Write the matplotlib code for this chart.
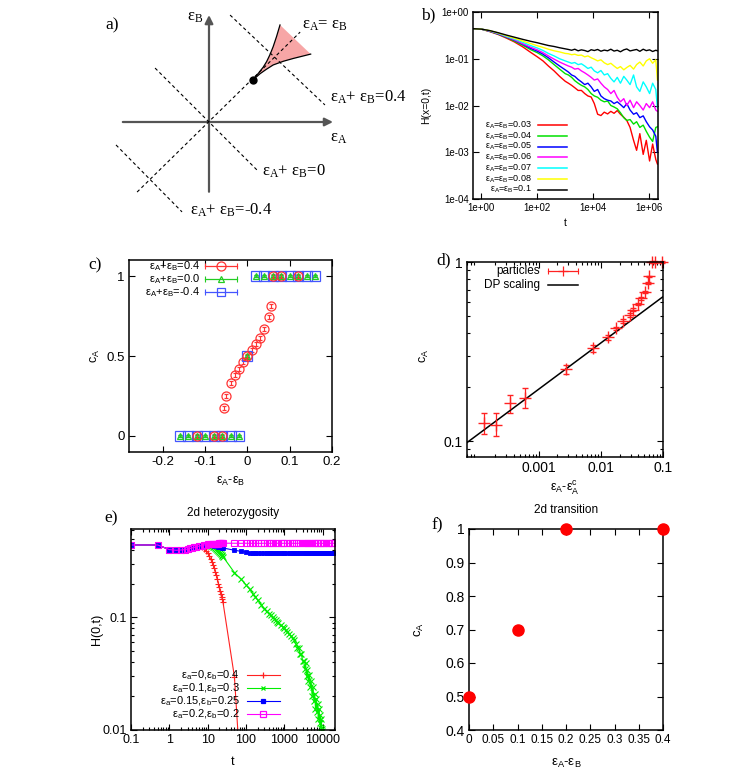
import numpy as np
import matplotlib
matplotlib.use('Agg')
import matplotlib.pyplot as plt
from matplotlib.ticker import FixedLocator, FixedFormatter, NullLocator, NullFormatter, LogLocator

plt.rcParams['font.family'] = ['Liberation Sans', 'DejaVu Sans']
plt.rcParams['mathtext.default'] = 'regular'

# ---------------- panel a: schematic phase diagram (eps units) ----------------
a_axis_h = ([-0.278, 0.40], [0.0, 0.0])
a_axis_v = ([0.0, 0.0], [-0.225, 0.345])
a_diag = ([-0.232, 0.294], [-0.226, 0.290])
a_sum_x = [[0.068, 0.374], [-0.174, 0.155], [-0.300, -0.087]]
a_sum_y = [[0.345, 0.055], [0.174, -0.155], [-0.074, -0.290]]
a_dot = (0.141, 0.135)
horn_up_x = [0.141, 0.160, 0.175, 0.186, 0.197, 0.207, 0.218, 0.229]
horn_up_y = [0.135, 0.158, 0.177, 0.195, 0.218, 0.243, 0.276, 0.313]
horn_lo_x = [0.141, 0.165, 0.185, 0.207, 0.240, 0.272, 0.300, 0.328]
horn_lo_y = [0.135, 0.156, 0.170, 0.184, 0.196, 0.205, 0.212, 0.219]

# ---------------- panel b ----------------
b_t = [0.5, 1, 2, 4, 8, 15, 30, 60, 100, 160, 250, 400, 630, 1000, 1300, 1700, 2200,
       2900, 3800, 5000, 6500, 8500, 11000, 14500, 19000, 25000, 33000, 43000, 56000,
       73000, 95000, 125000, 160000, 210000, 280000, 360000, 470000, 620000, 800000,
       1050000, 1350000, 1750000, 2000000]
b_red = [0.44, 0.43, 0.38, 0.33, 0.275, 0.23, 0.18, 0.135, 0.11, 0.09, 0.07, 0.055, 0.042, 0.033,
         0.03, 0.027, 0.024, 0.021, 0.021, 0.018, 0.016, 0.0152, 0.011, 0.0065,
         0.0061, 0.0072, 0.0066, 0.0075, 0.0068, 0.0078, 0.0065, 0.0056, 0.0048, 0.0034,
         0.0018, 0.0011, 0.0025, 0.0009, 0.0018, 0.00065, 0.0015, 0.0007, 0.00056]
b_green = [0.44, 0.43, 0.385, 0.335, 0.285, 0.24, 0.195, 0.155, 0.135, 0.115, 0.095, 0.075, 0.06, 0.048,
           0.045, 0.04, 0.034, 0.03, 0.027, 0.025, 0.022, 0.018, 0.016, 0.015,
           0.013, 0.012, 0.0125, 0.01, 0.0093, 0.0085, 0.007, 0.0055, 0.0048, 0.005,
           0.004, 0.0045, 0.0034, 0.0038, 0.0028, 0.0021, 0.0017, 0.0034, 0.0035]
b_blue = [0.44, 0.43, 0.39, 0.34, 0.29, 0.25, 0.205, 0.165, 0.145, 0.125, 0.105, 0.085, 0.07, 0.058,
          0.052, 0.045, 0.042, 0.036, 0.032, 0.028, 0.03, 0.025, 0.02, 0.022,
          0.016, 0.014, 0.013, 0.0125, 0.011, 0.012, 0.0105, 0.009, 0.011, 0.008,
          0.0065, 0.007, 0.0055, 0.006, 0.0045, 0.0035, 0.003, 0.0022, 0.001]
b_magenta = [0.44, 0.43, 0.39, 0.345, 0.295, 0.255, 0.21, 0.175, 0.155, 0.135, 0.115, 0.098, 0.085, 0.075,
             0.07, 0.066, 0.06, 0.062, 0.055, 0.05, 0.045, 0.04, 0.035, 0.037,
             0.03, 0.025, 0.022, 0.018, 0.021, 0.015, 0.012, 0.014, 0.01, 0.013,
             0.009, 0.012, 0.01, 0.008, 0.011, 0.009, 0.012, 0.008, 0.0075]
b_cyan = [0.44, 0.43, 0.395, 0.35, 0.30, 0.265, 0.225, 0.19, 0.17, 0.15, 0.13, 0.115, 0.10, 0.09,
          0.085, 0.08, 0.083, 0.075, 0.078, 0.07, 0.062, 0.066, 0.055, 0.05,
          0.056, 0.045, 0.048, 0.038, 0.032, 0.04, 0.03, 0.042, 0.035, 0.028,
          0.045, 0.025, 0.02, 0.032, 0.025, 0.018, 0.03, 0.022, 0.009]
b_yellow = [0.44, 0.43, 0.40, 0.355, 0.31, 0.275, 0.24, 0.21, 0.19, 0.175, 0.16, 0.148, 0.14, 0.13,
            0.128, 0.122, 0.125, 0.118, 0.12, 0.11, 0.115, 0.105, 0.098, 0.09,
            0.095, 0.082, 0.075, 0.08, 0.07, 0.062, 0.068, 0.058, 0.065, 0.072,
            0.06, 0.075, 0.085, 0.07, 0.09, 0.1, 0.08, 0.095, 0.035]
b_black = [0.44, 0.43, 0.40, 0.36, 0.32, 0.29, 0.26, 0.235, 0.22, 0.205, 0.192, 0.183, 0.172, 0.163,
           0.158, 0.152, 0.16, 0.148, 0.155, 0.15, 0.142, 0.156, 0.15, 0.158,
           0.145, 0.153, 0.148, 0.16, 0.146, 0.152, 0.141, 0.155, 0.162, 0.147,
           0.153, 0.158, 0.144, 0.16, 0.149, 0.155, 0.143, 0.152, 0.148]
b_labels = ['ε$_A$=ε$_B$=0.03', 'ε$_A$=ε$_B$=0.04', 'ε$_A$=ε$_B$=0.05', 'ε$_A$=ε$_B$=0.06',
            'ε$_A$=ε$_B$=0.07', 'ε$_A$=ε$_B$=0.08', 'ε$_A$=ε$_B$=0.1']
b_colors = ['#ff0000', '#00e000', '#0000ff', '#ff00ff', '#00ffff', '#ffff00', '#000000']
b_xticks = [1, 1e2, 1e4, 1e6]
b_xticklabels = ['1e+00', '1e+02', '1e+04', '1e+06']
b_yticks = [1e-4, 1e-3, 1e-2, 1e-1, 1]
b_yticklabels = ['1e-04', '1e-03', '1e-02', '1e-01', '1e+00']

# ---------------- panel c ----------------
c_red_x = [-0.12, -0.08, -0.06, -0.055, -0.05, -0.04, -0.03, -0.02, -0.01, 0.0, 0.01, 0.02, 0.03,
           0.04, 0.05, 0.055, 0.06, 0.08, 0.12]
c_red_y = [0, 0, 0, 0.175, 0.25, 0.33, 0.38, 0.42, 0.46, 0.5, 0.54, 0.575, 0.615,
           0.67, 0.745, 0.815, 1, 1, 1]
c_sym_x = [-0.16, -0.14, -0.12, -0.10, -0.08, -0.06, -0.04, -0.02, 0.0,
           0.02, 0.04, 0.06, 0.08, 0.10, 0.12, 0.14, 0.16]
c_sym_y = [0, 0, 0, 0, 0, 0, 0, 0, 0.5, 1, 1, 1, 1, 1, 1, 1, 1]
c_err = 0.012
c_labels = ['ε$_A$+ε$_B$=0.4', 'ε$_A$+ε$_B$=0.0', 'ε$_A$+ε$_B$=-0.4']

# ---------------- panel d ----------------
d_x = [1.3e-4, 2.05e-4, 3.47e-4, 5.9e-4, 2.7e-3, 7.6e-3, 0.0129, 0.0177, 0.0229, 0.0291, 0.0335,
       0.0398, 0.045, 0.0507, 0.0568, 0.0606, 0.066, 0.075, 0.096]
d_y = [0.126, 0.123, 0.162, 0.173, 0.251, 0.33, 0.379, 0.426, 0.468, 0.506, 0.54,
       0.582, 0.626, 0.677, 0.76, 0.83, 1.0, 1.0, 1.0]
d_lo = [0.110, 0.106, 0.143, 0.152, 0.238, 0.315, 0.367, 0.416, 0.458, 0.496, 0.53,
        0.572, 0.616, 0.667, 0.75, 0.82, 0.99, 0.99, 0.99]
d_hi = [0.143, 0.143, 0.181, 0.197, 0.266, 0.345, 0.391, 0.436, 0.478, 0.516, 0.55,
        0.592, 0.636, 0.687, 0.77, 0.84, 1.01, 1.01, 1.01]
dp_x = [7e-5, 0.1]
dp_y = [0.098, 0.64]
d_labels = ['particles', 'DP scaling']

# ---------------- panel e ----------------
e_t = [0.1, 0.5, 1, 1.5, 2, 2.5, 3, 3.5, 4, 4.5, 5, 6, 7, 8, 9, 10, 11, 12, 13, 14, 15, 16, 17,
       18, 19, 20, 21, 22, 23, 24, 25]
e_red = [0.44, 0.44, 0.40, 0.395, 0.397, 0.40, 0.405, 0.41, 0.415, 0.42, 0.425, 0.428, 0.42, 0.405,
         0.39, 0.372, 0.35, 0.33, 0.31, 0.29, 0.272, 0.255, 0.238, 0.22, 0.2, 0.185, 0.172,
         0.16, 0.152, 0.145, 0.138]
e_red_tail_t = [50, 75]
e_red_tail = [0.0295, 0.0033]
e_green = [0.44, 0.44, 0.40, 0.395, 0.397, 0.40, 0.405, 0.41, 0.415, 0.42, 0.425, 0.43, 0.435, 0.44,
           0.443, 0.442, 0.44, 0.435, 0.43, 0.424, 0.418, 0.41, 0.403, 0.395, 0.388, 0.38,
           0.373, 0.366, 0.36, 0.353, 0.347]
e_green_tail_t = [50, 75, 100, 125, 150, 175, 200, 250, 300, 350, 400, 450, 500, 550, 600, 650,
                  700, 800, 900, 1000, 1100, 1200, 1350, 1500, 1650, 1800, 2000, 2200, 2400,
                  2600, 2800, 3000, 3200, 3400, 3600, 3800, 4000, 4250, 4500, 4750, 5000, 5300,
                  5600, 5900, 6200, 6500, 6800, 7100, 7400, 7700, 8000, 8300, 8600, 8900, 9200,
                  9500, 9800, 10200]
e_green_tail = [0.25, 0.218, 0.195, 0.178, 0.163, 0.152, 0.143, 0.13, 0.12, 0.113, 0.108, 0.104,
                0.1, 0.097, 0.094, 0.091, 0.089, 0.086, 0.083, 0.08, 0.077, 0.074, 0.071, 0.068,
                0.066, 0.063, 0.058, 0.054, 0.053, 0.047, 0.047, 0.041, 0.041, 0.035, 0.039,
                0.030, 0.034, 0.027, 0.031, 0.024, 0.027, 0.020, 0.024, 0.018, 0.021, 0.0155,
                0.019, 0.0145, 0.017, 0.0125, 0.0155, 0.0115, 0.0135, 0.0105, 0.0125, 0.0102,
                0.0098, 0.009]
e_blue = [0.44, 0.44, 0.40, 0.395, 0.397, 0.40, 0.405, 0.41, 0.415, 0.42, 0.425, 0.43, 0.435, 0.44,
          0.443, 0.443, 0.442, 0.44, 0.438, 0.436, 0.434, 0.432, 0.43, 0.428, 0.426, 0.424,
          0.422, 0.42, 0.418, 0.416, 0.414]
e_magenta = [0.44, 0.44, 0.40, 0.395, 0.397, 0.40, 0.405, 0.41, 0.415, 0.42, 0.425, 0.43, 0.435, 0.44,
             0.443, 0.445, 0.447, 0.448, 0.449, 0.45, 0.451, 0.452, 0.452, 0.453, 0.453, 0.454,
             0.454, 0.455, 0.455, 0.455, 0.456]
e_late_t = [50, 75, 100, 125, 150, 175, 200, 250, 300, 350, 400, 450, 500, 600, 700, 800, 900,
            1000, 1200, 1400, 1600, 1800, 2000, 2300, 2600, 3000, 3400, 3800, 4200, 4700, 5200,
            5800, 6400, 7000, 7700, 8500, 9300, 10000, 11000, 12000, 13500, 15000, 16500,
            18000, 20000]
e_blue_tail = [0.395, 0.386, 0.38, 0.377, 0.376, 0.376, 0.375, 0.375, 0.374, 0.375,
               0.374, 0.374, 0.375, 0.374, 0.373, 0.374, 0.374, 0.373, 0.374, 0.373,
               0.373, 0.374, 0.373, 0.373, 0.372, 0.373, 0.373, 0.372, 0.373, 0.372,
               0.373, 0.372, 0.372, 0.373, 0.372, 0.372, 0.372, 0.371, 0.372, 0.372,
               0.371, 0.372, 0.371, 0.372, 0.371]
e_magenta_tail = [0.456, 0.455, 0.456, 0.455, 0.455, 0.456, 0.455, 0.455, 0.456, 0.455,
                  0.455, 0.456, 0.455, 0.455, 0.456, 0.455, 0.455, 0.456, 0.455, 0.455,
                  0.456, 0.455, 0.455, 0.456, 0.455, 0.455, 0.456, 0.455, 0.455, 0.456,
                  0.455, 0.455, 0.456, 0.455, 0.455, 0.456, 0.455, 0.455, 0.456, 0.455,
                  0.455, 0.456, 0.455, 0.455, 0.456]
e_labels = ['ε$_a$=0,ε$_b$=0.4', 'ε$_a$=0.1,ε$_b$=0.3', 'ε$_a$=0.15,ε$_b$=0.25', 'ε$_a$=0.2,ε$_b$=0.2']
e_xticks = [0.1, 1, 10, 100, 1000, 10000]
e_xticklabels = ['0.1', '1', '10', '100', '1000', '10000']

# ---------------- panel f ----------------
f_x = [0.0, 0.1, 0.2, 0.4]
f_y = [0.5, 0.7, 1.0, 1.0]
f_xticks = [0, 0.05, 0.1, 0.15, 0.2, 0.25, 0.3, 0.35, 0.4]
f_xticklabels = ['0', '0.05', '0.1', '0.15', '0.2', '0.25', '0.3', '0.35', '0.4']
f_yticks = [0.4, 0.5, 0.6, 0.7, 0.8, 0.9, 1.0]
f_yticklabels = ['0.4', '0.5', '0.6', '0.7', '0.8', '0.9', '1']

W, H = 736, 784
fig = plt.figure(figsize=(W / 100, H / 100), dpi=100)


def box(x0, y0, x1, y1):
    return [x0 / W, 1 - y1 / H, (x1 - x0) / W, (y1 - y0) / H]


def style(ax, fs):
    ax.tick_params(which='both', direction='in', top=True, right=True, labelsize=fs, width=0.8)
    ax.tick_params(which='major', length=4, pad=3)
    ax.tick_params(which='minor', length=2)
    for s in ax.spines.values():
        s.set_linewidth(1.1)


def labels(ax, xl, yl, xpos, ypos, fs):
    ax.set_xlabel(xl, fontsize=fs)
    ax.set_ylabel(yl, fontsize=fs)
    ax.xaxis.set_label_coords(*xpos)
    ax.yaxis.set_label_coords(*ypos)
    ax.xaxis.label.set_va('center')
    ax.yaxis.label.set_va('center')


def key(ax, labs, specs, xr, x0, x1, ytop, dy, fs, caps=False):
    # gnuplot-like key: right-aligned text, sample line to the right
    tr = ax.transAxes
    for i, (lab, sp) in enumerate(zip(labs, specs)):
        y = ytop - i * dy
        ax.text(xr, y, lab, transform=tr, ha='right', va='center', fontsize=fs)
        ax.plot([x0, x1], [y, y], transform=tr, color=sp['color'], lw=sp.get('lw', 1.0), clip_on=False)
        if caps or sp.get('caps'):
            ax.plot([x0, x1], [y, y], transform=tr, ls='none', marker='|', ms=4, mew=0.8,
                    color=sp['color'], clip_on=False)
        if 'marker' in sp:
            ax.plot([(x0 + x1) / 2], [y], transform=tr, ls='none', marker=sp['marker'],
                    ms=sp.get('ms', 5), mfc=sp.get('mfc', sp['color']), mec=sp['color'],
                    mew=sp.get('mew', 0.9), clip_on=False)


serif = ['Liberation Serif', 'DejaVu Serif']

# ---- a ----
axa = fig.add_axes(box(100, 0, 420, 230))
axa.set_xlim(-109 / 310, 211 / 310)
axa.set_ylim(-108 / 310, 122 / 310)
axa.axis('off')
axa.fill(horn_up_x + horn_lo_x[::-1], horn_up_y + horn_lo_y[::-1], color='#f7a6a6', lw=0, zorder=1)
axa.plot(horn_up_x, horn_up_y, color='black', lw=0.9, zorder=2)
axa.plot(horn_lo_x, horn_lo_y, color='black', lw=0.9, zorder=2)
for xs, ys in zip(a_sum_x, a_sum_y):
    axa.plot(xs, ys, color='black', lw=0.8, ls=(0, (3, 2.5)), zorder=3)
axa.plot(*a_diag, color='black', lw=0.8, ls=(0, (3, 2.5)), zorder=3)
for xs, ys in (a_axis_h, a_axis_v):
    axa.annotate('', xy=(xs[1], ys[1]), xytext=(xs[0], ys[0]),
                 arrowprops=dict(arrowstyle='-|>', color='#555555', lw=1.6,
                                 mutation_scale=12, shrinkA=0, shrinkB=0), zorder=2)
axa.plot(*a_dot, 'o', color='black', ms=5, zorder=4)
tk = dict(family=serif, fontsize=12, va='center')
axa.text(-0.02, 0.34, 'ε$_B$', ha='right', **tk)
axa.text(0.30, 0.313, 'ε$_A$= ε$_B$', ha='left', **tk)
axa.text(0.39, 0.08, 'ε$_A$+ ε$_B$=0.4', ha='left', **tk)
axa.text(0.39, -0.05, 'ε$_A$', ha='left', **tk)
axa.text(0.172, -0.16, 'ε$_A$+ ε$_B$=0', ha='left', **tk)
axa.text(-0.062, -0.285, 'ε$_A$+ ε$_B$=-0.4', ha='left', **tk)

# ---- b ----
axb = fig.add_axes(box(473, 12, 658, 199))
b_series = [b_red, b_green, b_blue, b_magenta, b_cyan, b_yellow, b_black]
for vals, col in zip(b_series, b_colors):
    axb.plot(b_t, vals, color=col, lw=1.0)
axb.set_xscale('log')
axb.set_yscale('log')
axb.set_xlim(0.5, 2.1e6)
axb.set_ylim(1e-4, 1)
axb.xaxis.set_major_locator(FixedLocator(b_xticks))
axb.xaxis.set_major_formatter(FixedFormatter(b_xticklabels))
axb.xaxis.set_minor_locator(NullLocator())
axb.yaxis.set_major_locator(FixedLocator(b_yticks))
axb.yaxis.set_major_formatter(FixedFormatter(b_yticklabels))
axb.yaxis.set_minor_locator(NullLocator())
style(axb, 7)
labels(axb, 't', 'H(x=0,t)', (0.5, -0.128), (-0.254, 0.5), 7.5)
key(axb, b_labels, [dict(color=c, lw=1.1) for c in b_colors],
    0.319, 0.351, 0.508, 0.395, 0.0575, 6.5)

# ---- c ----
axc = fig.add_axes(box(129, 260, 332, 452))
axc.errorbar(c_sym_x, c_sym_y, yerr=0.006, fmt='s', ms=6.5, mfc='none', mec='#4455ff', ecolor='#4455ff',
             mew=0.9, elinewidth=0.8, capsize=1.5, clip_on=False)
axc.errorbar(c_sym_x, c_sym_y, yerr=0.006, fmt='^', ms=4.5, mfc='none', mec='#22cc22', ecolor='#22cc22',
             mew=0.9, elinewidth=0.8, capsize=1.5, clip_on=False)
axc.errorbar(c_red_x, c_red_y, yerr=c_err, fmt='o', ms=6.5, mfc='none', mec='#ff3333', ecolor='#ff3333',
             mew=0.9, elinewidth=0.8, capsize=1.5, clip_on=False)
axc.set_xlim(-0.28, 0.2)
axc.set_ylim(-0.1, 1.1)
axc.set_xticks([-0.2, -0.1, 0, 0.1, 0.2])
axc.set_xticklabels(['-0.2', '-0.1', '0', '0.1', '0.2'])
axc.set_yticks([0, 0.5, 1])
axc.set_yticklabels(['0', '0.5', '1'])
style(axc, 9.5)
labels(axc, 'ε$_A$-ε$_B$', 'c$_A$', (0.5, -0.151), (-0.165, 0.5), 9)
key(axc, c_labels,
    [dict(color='#ff3333', marker='o', mfc='none', ms=6.5, lw=0.9),
     dict(color='#22cc22', marker='^', mfc='none', ms=5, lw=0.9),
     dict(color='#4455ff', marker='s', mfc='none', ms=6, lw=0.9)],
    0.35, 0.374, 0.532, 0.969, 0.067, 8, caps=True)

# ---- d ----
axd = fig.add_axes(box(467, 262, 663, 457))
d_yerr = [np.array(d_y) - np.array(d_lo), np.array(d_hi) - np.array(d_y)]
axd.errorbar(d_x, d_y, yerr=d_yerr, fmt='+', ms=8, color='#ff2222', mew=1.0, elinewidth=0.9,
             capsize=2, clip_on=False)
axd.plot(dp_x, dp_y, color='black', lw=1.1)
axd.set_xscale('log')
axd.set_yscale('log')
axd.set_xlim(7e-5, 0.1)
axd.set_ylim(0.0814, 1)
axd.xaxis.set_major_locator(FixedLocator([1e-3, 1e-2, 1e-1]))
axd.xaxis.set_major_formatter(FixedFormatter(['0.001', '0.01', '0.1']))
axd.xaxis.set_minor_locator(LogLocator(subs=np.arange(2, 10)))
axd.xaxis.set_minor_formatter(NullFormatter())
axd.yaxis.set_major_locator(FixedLocator([0.1, 1]))
axd.yaxis.set_major_formatter(FixedFormatter(['0.1', '1']))
axd.yaxis.set_minor_locator(LogLocator(subs=np.arange(2, 10)))
axd.yaxis.set_minor_formatter(NullFormatter())
style(axd, 10)
labels(axd, 'ε$_A$-ε$_A^c$', 'c$_A$', (0.5, -0.159), (-0.219, 0.518), 9)
key(axd, d_labels,
    [dict(color='#ff2222', marker='+', ms=7, lw=0.9, caps=True), dict(color='black', lw=1.1)],
    0.372, 0.413, 0.566, 0.952, 0.068, 8.5)

# ---- e ----
axe = fig.add_axes(box(131, 529, 335, 730))
axe.plot(e_t + e_red_tail_t, e_red + e_red_tail, color='#ff2222', lw=0.8, marker='+', ms=4,
         mew=0.8)
axe.plot(e_t + e_green_tail_t, e_green + e_green_tail, color='#00ee00', lw=0.8, marker='x', ms=4,
         mew=0.8)
axe.plot(e_t + e_late_t, e_blue + e_blue_tail, color='#0000ff', lw=0.8, marker='s', ms=2.8,
         mew=0.6)
axe.plot(e_t + e_late_t, e_magenta + e_magenta_tail, color='#ff00ff', lw=0.8, marker='s', ms=3.8,
         mfc='none', mew=0.8)
axe.set_xscale('log')
axe.set_yscale('log')
axe.set_xlim(0.1, 21000)
axe.set_ylim(0.01, 0.61)
axe.xaxis.set_major_locator(FixedLocator(e_xticks))
axe.xaxis.set_major_formatter(FixedFormatter(e_xticklabels))
axe.xaxis.set_minor_locator(LogLocator(subs=np.arange(2, 10)))
axe.xaxis.set_minor_formatter(NullFormatter())
axe.yaxis.set_major_locator(FixedLocator([0.01, 0.1]))
axe.yaxis.set_major_formatter(FixedFormatter(['0.01', '0.1']))
axe.yaxis.set_minor_locator(LogLocator(subs=np.arange(2, 10)))
axe.yaxis.set_minor_formatter(NullFormatter())
style(axe, 9)
labels(axe, 't', 'H(0,t)', (0.5, -0.159), (-0.167, 0.5), 9)
axe.text(0.5, 1.08, '2d heterozygosity', transform=axe.transAxes, ha='center', va='center', fontsize=8.5)
key(axe, e_labels,
    [dict(color='#ff2222', marker='+', ms=4, lw=0.8),
     dict(color='#00ee00', marker='x', ms=3.5, lw=0.8),
     dict(color='#0000ff', marker='s', ms=3, lw=0.8),
     dict(color='#ff00ff', marker='s', mfc='none', ms=4, lw=0.8)],
    0.534, 0.569, 0.73, 0.272, 0.064, 8)

# ---- f ----
axf = fig.add_axes(box(469, 529, 663, 730))
axf.plot(f_x, f_y, 'o', color='#ff0000', ms=8, clip_on=False, zorder=5)
axf.set_xlim(0, 0.4)
axf.set_ylim(0.4, 1.0)
axf.set_xticks(f_xticks)
axf.set_xticklabels(f_xticklabels)
axf.set_yticks(f_yticks)
axf.set_yticklabels(f_yticklabels)
style(axf, 10)
axf.tick_params(axis='x', labelsize=8.5)
labels(axf, 'ε$_A$-ε$_B$', 'c$_A$', (0.5, -0.164), (-0.253, 0.5), 9.5)
axf.text(0.5, 1.095, '2d transition', transform=axf.transAxes, ha='center', va='center', fontsize=8.5)

# panel letters
for lab, (px, py) in zip(['a)', 'b)', 'c)', 'd)', 'e)', 'f)'],
                         [(112, 25), (428, 15), (95, 265), (444, 260), (111, 518), (437, 525)]):
    fig.text(px / W, 1 - py / H, lab, family=serif, fontsize=12.5, ha='center', va='center')

fig.savefig('out.png', dpi=100)
